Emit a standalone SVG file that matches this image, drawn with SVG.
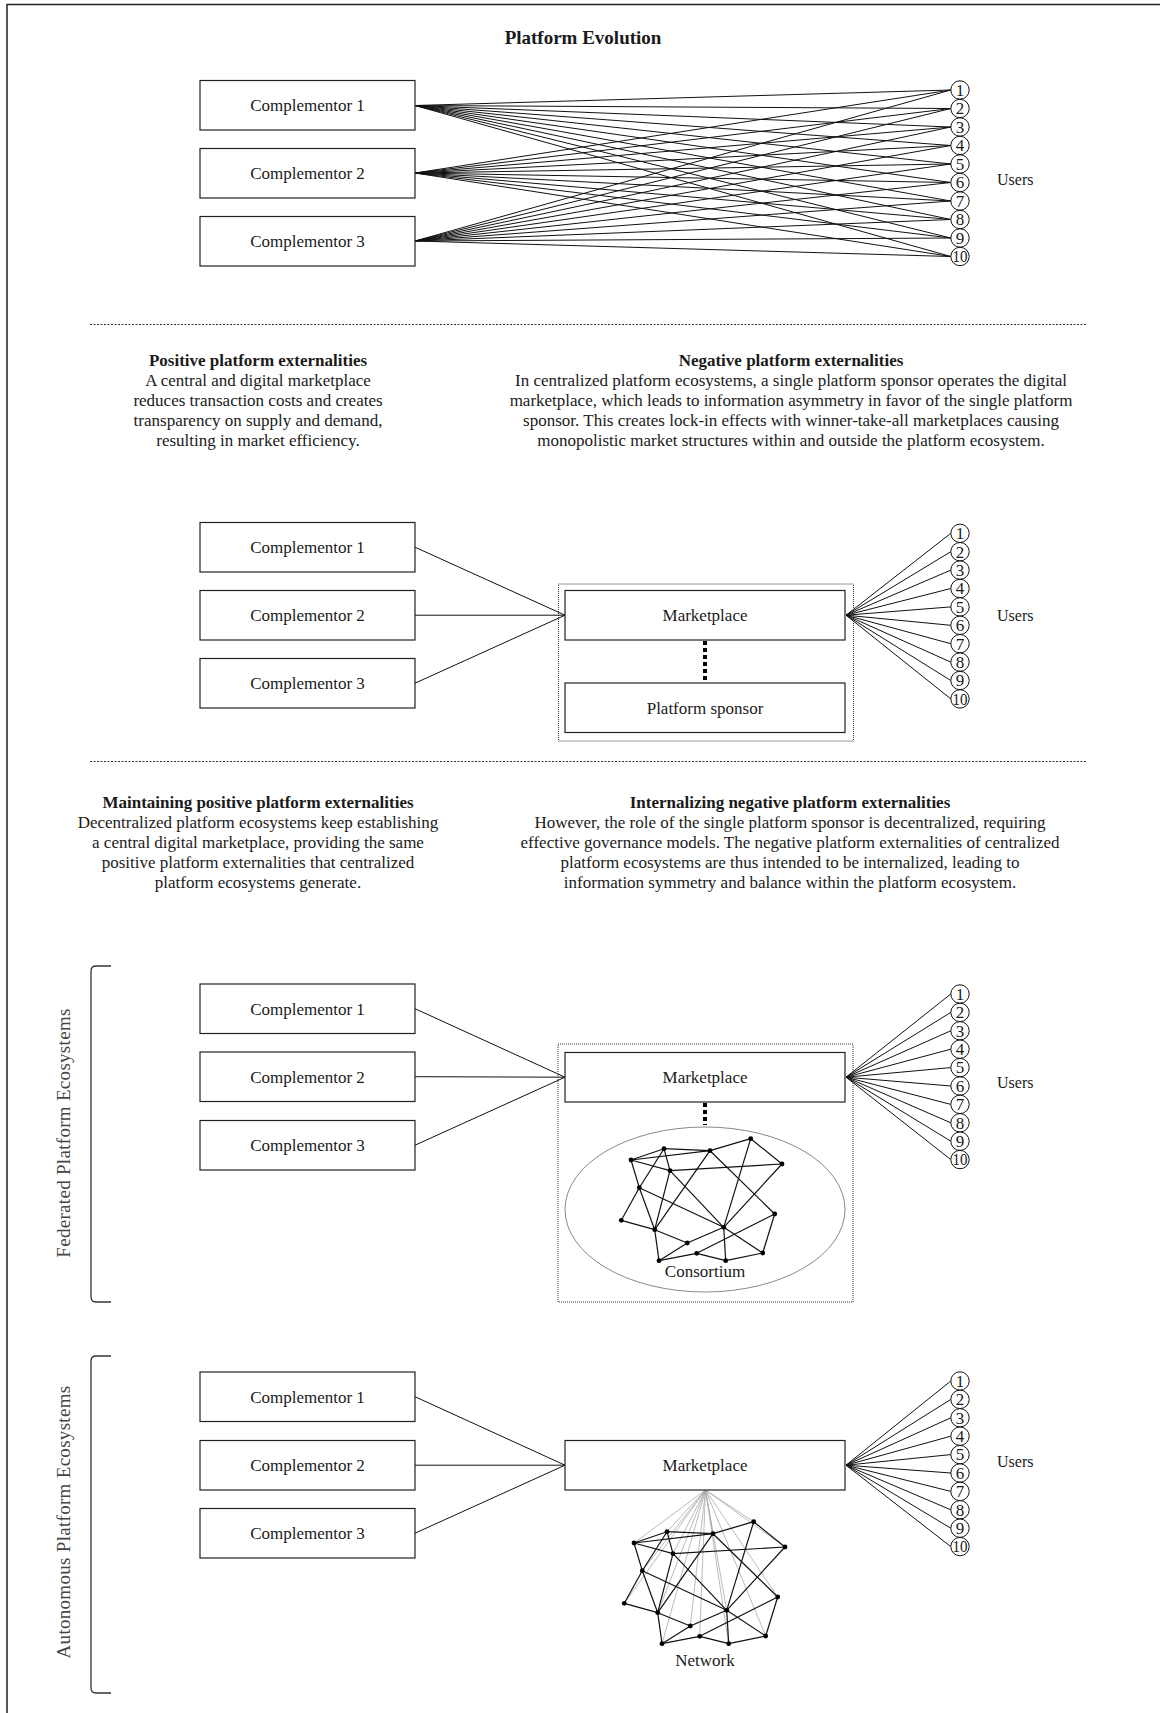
<svg xmlns="http://www.w3.org/2000/svg" xmlns:xlink="http://www.w3.org/1999/xlink" width="1160" height="1713" viewBox="0 0 1160 1713">
<style>
text{font-family:"Liberation Serif","Times New Roman",serif;fill:#1a1a1a}
.box{fill:#fff;stroke:#222;stroke-width:1.2}
.lbl{font-size:17px;text-anchor:middle}
.hd{font-size:17px;font-weight:bold;text-anchor:middle}
.body{font-size:17px;text-anchor:middle}
.title{font-size:19px;font-weight:bold;text-anchor:middle}
.users{font-size:16px}
.uc{fill:#fff;stroke:#111;stroke-width:1}
.num{font-size:17px;text-anchor:middle}
.ln{stroke:#111;stroke-width:1;fill:none}
.sep{stroke:#333;stroke-width:1;stroke-dasharray:2 1.5}
.cont{fill:none;stroke:#333;stroke-width:1;stroke-dasharray:1 1}
.thick{stroke:#000;stroke-width:4;stroke-dasharray:4 3}
.side{font-size:19px;text-anchor:middle;fill:#444;letter-spacing:0.3px}
.brk{fill:none;stroke:#333;stroke-width:1.3}
.mesh line{stroke:#111;stroke-width:1.2}
.mesh circle{fill:#000}
.gray{stroke:#aaa;stroke-width:0.8}
</style>
<defs>
<g id="mesh" class="mesh">
<line x1="631" y1="1160" x2="664" y2="1148.7"/>
<line x1="664" y1="1148.7" x2="710" y2="1150.7"/>
<line x1="710" y1="1150.7" x2="750.7" y2="1138.7"/>
<line x1="750.7" y1="1138.7" x2="782" y2="1164"/>
<line x1="631" y1="1160" x2="710" y2="1150.7"/>
<line x1="631" y1="1160" x2="670" y2="1170.7"/>
<line x1="670" y1="1170.7" x2="782" y2="1164"/>
<line x1="631" y1="1160" x2="639.3" y2="1187.7"/>
<line x1="664" y1="1148.7" x2="639.3" y2="1187.7"/>
<line x1="664" y1="1148.7" x2="670" y2="1170.7"/>
<line x1="670" y1="1170.7" x2="654.7" y2="1229.7"/>
<line x1="639.3" y1="1187.7" x2="621.3" y2="1220.3"/>
<line x1="621.3" y1="1220.3" x2="654.7" y2="1229.7"/>
<line x1="639.3" y1="1187.7" x2="654.7" y2="1229.7"/>
<line x1="639.3" y1="1187.7" x2="723.7" y2="1227.3"/>
<line x1="654.7" y1="1229.7" x2="710" y2="1150.7"/>
<line x1="670" y1="1170.7" x2="723.7" y2="1227.3"/>
<line x1="710" y1="1150.7" x2="774.7" y2="1214"/>
<line x1="750.7" y1="1138.7" x2="723.7" y2="1227.3"/>
<line x1="782" y1="1164" x2="723.7" y2="1227.3"/>
<line x1="654.7" y1="1229.7" x2="687.3" y2="1243"/>
<line x1="687.3" y1="1243" x2="723.7" y2="1227.3"/>
<line x1="654.7" y1="1229.7" x2="659" y2="1260.7"/>
<line x1="659" y1="1260.7" x2="687.3" y2="1243"/>
<line x1="659" y1="1260.7" x2="696.7" y2="1253.3"/>
<line x1="696.7" y1="1253.3" x2="774.7" y2="1214"/>
<line x1="696.7" y1="1253.3" x2="725.7" y2="1260.7"/>
<line x1="725.7" y1="1260.7" x2="762.7" y2="1253"/>
<line x1="723.7" y1="1227.3" x2="725.7" y2="1260.7"/>
<line x1="774.7" y1="1214" x2="762.7" y2="1253"/>
<line x1="723.7" y1="1227.3" x2="762.7" y2="1253"/>
<circle cx="664" cy="1148.7" r="2.4"/><circle cx="710" cy="1150.7" r="2.4"/><circle cx="750.7" cy="1138.7" r="2.4"/><circle cx="631" cy="1160" r="2.4"/>
<circle cx="670" cy="1170.7" r="2.4"/><circle cx="782" cy="1164" r="2.4"/><circle cx="639.3" cy="1187.7" r="2.4"/><circle cx="774.7" cy="1214" r="2.4"/>
<circle cx="621.3" cy="1220.3" r="2.4"/><circle cx="723.7" cy="1227.3" r="2.4"/><circle cx="654.7" cy="1229.7" r="2.4"/><circle cx="687.3" cy="1243" r="2.4"/>
<circle cx="696.7" cy="1253.3" r="2.4"/><circle cx="762.7" cy="1253" r="2.4"/><circle cx="659" cy="1260.7" r="2.4"/><circle cx="725.7" cy="1260.7" r="2.4"/>
</g>
</defs>

<rect x="7" y="4.5" width="1170" height="1730" fill="#fff" stroke="#222" stroke-width="1.5"/>

<text class="title" x="583" y="44">Platform Evolution</text>

<!-- connectors -->
<g id="connectors">
<g id="top-lines" class="ln">
<path d="M415,105.5L950.8,90M415,105.5L950.8,108.5M415,105.5L950.8,127M415,105.5L950.8,145.5M415,105.5L950.8,164M415,105.5L950.8,182.5M415,105.5L950.8,201M415,105.5L950.8,219.5M415,105.5L950.8,238M415,105.5L950.8,256.5"/>
<path d="M415,173L950.8,90M415,173L950.8,108.5M415,173L950.8,127M415,173L950.8,145.5M415,173L950.8,164M415,173L950.8,182.5M415,173L950.8,201M415,173L950.8,219.5M415,173L950.8,238M415,173L950.8,256.5"/>
<path d="M415,241L950.8,90M415,241L950.8,108.5M415,241L950.8,127M415,241L950.8,145.5M415,241L950.8,164M415,241L950.8,182.5M415,241L950.8,201M415,241L950.8,219.5M415,241L950.8,238M415,241L950.8,256.5"/>
</g>
<g id="s2-lines" class="ln">
<path d="M415,547.2L565,615.2M415,615.2L565,615.2M415,683.2L565,615.2"/>
<path d="M846,615.2L950.8,533.3M846,615.2L950.8,551.7M846,615.2L950.8,570.1M846,615.2L950.8,588.5M846,615.2L950.8,606.9M846,615.2L950.8,625.3M846,615.2L950.8,643.7M846,615.2L950.8,662.1M846,615.2L950.8,680.5M846,615.2L950.8,698.9"/>
<line class="thick" x1="705" y1="641" x2="705" y2="682"/>
</g>
<g id="s3-lines" class="ln">
<path d="M415,1008.7L565,1077.2M415,1076.7L565,1077.2M415,1145.2L565,1077.2"/>
<path d="M846,1077.2L950.8,994M846,1077.2L950.8,1012.4M846,1077.2L950.8,1030.8M846,1077.2L950.8,1049.2M846,1077.2L950.8,1067.6M846,1077.2L950.8,1086M846,1077.2L950.8,1104.4M846,1077.2L950.8,1122.8M846,1077.2L950.8,1141.2M846,1077.2L950.8,1159.6"/>
<line class="thick" x1="705" y1="1103" x2="705" y2="1125"/>
</g>
<g id="s4-lines" class="ln">
<path d="M415,1396.7L565,1465.2M415,1465.2L565,1465.2M415,1533.2L565,1465.2"/>
<path d="M846,1465.2L950.8,1381M846,1465.2L950.8,1399.4M846,1465.2L950.8,1417.8M846,1465.2L950.8,1436.2M846,1465.2L950.8,1454.6M846,1465.2L950.8,1473M846,1465.2L950.8,1491.4M846,1465.2L950.8,1509.8M846,1465.2L950.8,1528.2M846,1465.2L950.8,1546.6"/>
<g class="gray">
<line x1="705.5" y1="1490" x2="667" y2="1531.7"/><line x1="705.5" y1="1490" x2="713" y2="1533.7"/><line x1="705.5" y1="1490" x2="753.7" y2="1521.7"/><line x1="705.5" y1="1490" x2="634" y2="1543"/>
<line x1="705.5" y1="1490" x2="673" y2="1553.7"/><line x1="705.5" y1="1490" x2="785" y2="1547"/><line x1="705.5" y1="1490" x2="642.3" y2="1570.7"/><line x1="705.5" y1="1490" x2="777.7" y2="1597"/>
<line x1="705.5" y1="1490" x2="624.3" y2="1603.3"/><line x1="705.5" y1="1490" x2="726.7" y2="1610.3"/><line x1="705.5" y1="1490" x2="657.7" y2="1612.7"/><line x1="705.5" y1="1490" x2="690.3" y2="1626"/>
<line x1="705.5" y1="1490" x2="699.7" y2="1636.3"/><line x1="705.5" y1="1490" x2="765.7" y2="1636"/><line x1="705.5" y1="1490" x2="662" y2="1643.7"/><line x1="705.5" y1="1490" x2="728.7" y2="1643.7"/>
</g>
</g>
</g>

<!-- separators -->
<line class="sep" x1="90" y1="324.5" x2="1087" y2="324.5"/>
<line class="sep" x1="90" y1="761.5" x2="1087" y2="761.5"/>

<!-- section 1 nodes -->
<g id="s1-comp1"><rect class="box" x="200" y="80.5" width="215" height="49.5"/><text class="lbl" x="307.5" y="111">Complementor 1</text></g>
<g id="s1-comp2"><rect class="box" x="200" y="148.5" width="215" height="49.5"/><text class="lbl" x="307.5" y="179">Complementor 2</text></g>
<g id="s1-comp3"><rect class="box" x="200" y="216.5" width="215" height="49.5"/><text class="lbl" x="307.5" y="247">Complementor 3</text></g>
<g id="s1-users">
<g id="s1-u1"><circle class="uc" cx="960" cy="90" r="9.2"/><text class="num" x="960" y="95.8">1</text></g>
<g id="s1-u2"><circle class="uc" cx="960" cy="108.5" r="9.2"/><text class="num" x="960" y="114.3">2</text></g>
<g id="s1-u3"><circle class="uc" cx="960" cy="127" r="9.2"/><text class="num" x="960" y="132.8">3</text></g>
<g id="s1-u4"><circle class="uc" cx="960" cy="145.5" r="9.2"/><text class="num" x="960" y="151.3">4</text></g>
<g id="s1-u5"><circle class="uc" cx="960" cy="164" r="9.2"/><text class="num" x="960" y="169.8">5</text></g>
<g id="s1-u6"><circle class="uc" cx="960" cy="182.5" r="9.2"/><text class="num" x="960" y="188.3">6</text></g>
<g id="s1-u7"><circle class="uc" cx="960" cy="201" r="9.2"/><text class="num" x="960" y="206.8">7</text></g>
<g id="s1-u8"><circle class="uc" cx="960" cy="219.5" r="9.2"/><text class="num" x="960" y="225.3">8</text></g>
<g id="s1-u9"><circle class="uc" cx="960" cy="238" r="9.2"/><text class="num" x="960" y="243.8">9</text></g>
<g id="s1-u10"><circle class="uc" cx="960" cy="256.5" r="9.2"/><text class="num" x="960" y="262.3" textLength="15" lengthAdjust="spacingAndGlyphs">10</text></g>
<text class="users" x="997" y="185">Users</text>
</g>

<!-- text section 1 -->
<g id="txt1-left">
<text class="hd" x="258" y="366">Positive platform externalities</text>
<text class="body" x="258" y="386">A central and digital marketplace</text>
<text class="body" x="258" y="406">reduces transaction costs and creates</text>
<text class="body" x="258" y="426">transparency on supply and demand,</text>
<text class="body" x="258" y="446">resulting in market efficiency.</text>
</g>
<g id="txt1-right">
<text class="hd" x="791" y="366">Negative platform externalities</text>
<text class="body" x="791" y="386">In centralized platform ecosystems, a single platform sponsor operates the digital</text>
<text class="body" x="791" y="406">marketplace, which leads to information asymmetry in favor of the single platform</text>
<text class="body" x="791" y="426">sponsor. This creates lock-in effects with winner-take-all marketplaces causing</text>
<text class="body" x="791" y="446">monopolistic market structures within and outside the platform ecosystem.</text>
</g>

<!-- section 2 nodes -->
<g id="s2-container"><rect class="cont" x="558.5" y="584" width="295" height="157"/></g>
<g id="s2-comp1"><rect class="box" x="200" y="522.5" width="215" height="49.5"/><text class="lbl" x="307.5" y="553">Complementor 1</text></g>
<g id="s2-comp2"><rect class="box" x="200" y="590.5" width="215" height="49.5"/><text class="lbl" x="307.5" y="621">Complementor 2</text></g>
<g id="s2-comp3"><rect class="box" x="200" y="658.5" width="215" height="49.5"/><text class="lbl" x="307.5" y="689">Complementor 3</text></g>
<g id="s2-market"><rect class="box" x="565" y="590.5" width="280" height="49.5"/><text class="lbl" x="705" y="621">Marketplace</text></g>
<g id="s2-sponsor"><rect class="box" x="565" y="683" width="280" height="49.5"/><text class="lbl" x="705" y="713.5">Platform sponsor</text></g>
<g id="s2-users">
<g id="s2-u1"><circle class="uc" cx="960" cy="533.3" r="9.2"/><text class="num" x="960" y="539.1">1</text></g>
<g id="s2-u2"><circle class="uc" cx="960" cy="551.7" r="9.2"/><text class="num" x="960" y="557.5">2</text></g>
<g id="s2-u3"><circle class="uc" cx="960" cy="570.1" r="9.2"/><text class="num" x="960" y="575.9">3</text></g>
<g id="s2-u4"><circle class="uc" cx="960" cy="588.5" r="9.2"/><text class="num" x="960" y="594.3">4</text></g>
<g id="s2-u5"><circle class="uc" cx="960" cy="606.9" r="9.2"/><text class="num" x="960" y="612.7">5</text></g>
<g id="s2-u6"><circle class="uc" cx="960" cy="625.3" r="9.2"/><text class="num" x="960" y="631.1">6</text></g>
<g id="s2-u7"><circle class="uc" cx="960" cy="643.7" r="9.2"/><text class="num" x="960" y="649.5">7</text></g>
<g id="s2-u8"><circle class="uc" cx="960" cy="662.1" r="9.2"/><text class="num" x="960" y="667.9">8</text></g>
<g id="s2-u9"><circle class="uc" cx="960" cy="680.5" r="9.2"/><text class="num" x="960" y="686.3">9</text></g>
<g id="s2-u10"><circle class="uc" cx="960" cy="698.9" r="9.2"/><text class="num" x="960" y="704.7" textLength="15" lengthAdjust="spacingAndGlyphs">10</text></g>
<text class="users" x="997" y="621">Users</text>
</g>

<!-- text section 2 -->
<g id="txt2-left">
<text class="hd" x="258" y="808">Maintaining positive platform externalities</text>
<text class="body" x="258" y="828">Decentralized platform ecosystems keep establishing</text>
<text class="body" x="258" y="848">a central digital marketplace, providing the same</text>
<text class="body" x="258" y="868">positive platform externalities that centralized</text>
<text class="body" x="258" y="888">platform ecosystems generate.</text>
</g>
<g id="txt2-right">
<text class="hd" x="790" y="808">Internalizing negative platform externalities</text>
<text class="body" x="790" y="828">However, the role of the single platform sponsor is decentralized, requiring</text>
<text class="body" x="790" y="848">effective governance models. The negative platform externalities of centralized</text>
<text class="body" x="790" y="868">platform ecosystems are thus intended to be internalized, leading to</text>
<text class="body" x="790" y="888">information symmetry and balance within the platform ecosystem.</text>
</g>

<!-- section 3: federated -->
<g id="federated-label">
<path class="brk" d="M111,966H96Q91,966 91,971V1297Q91,1302 96,1302H111"/>
<text class="side" transform="translate(63,1133) rotate(-90)" dy="0.35em">Federated Platform Ecosystems</text>
</g>
<g id="s3-container"><rect class="cont" x="558" y="1044" width="295" height="258"/></g>
<g id="s3-comp1"><rect class="box" x="200" y="984" width="215" height="49.5"/><text class="lbl" x="307.5" y="1014.5">Complementor 1</text></g>
<g id="s3-comp2"><rect class="box" x="200" y="1052" width="215" height="49.5"/><text class="lbl" x="307.5" y="1082.5">Complementor 2</text></g>
<g id="s3-comp3"><rect class="box" x="200" y="1120.5" width="215" height="49.5"/><text class="lbl" x="307.5" y="1151">Complementor 3</text></g>
<g id="s3-market"><rect class="box" x="565" y="1052.5" width="280" height="49.5"/><text class="lbl" x="705" y="1083">Marketplace</text></g>
<g id="s3-consortium">
<ellipse cx="705" cy="1209.5" rx="140" ry="82.5" fill="none" stroke="#888" stroke-width="1"/>
<use xlink:href="#mesh"/>
<text class="lbl" x="705" y="1277">Consortium</text>
</g>
<g id="s3-users">
<g id="s3-u1"><circle class="uc" cx="960" cy="994" r="9.2"/><text class="num" x="960" y="999.8">1</text></g>
<g id="s3-u2"><circle class="uc" cx="960" cy="1012.4" r="9.2"/><text class="num" x="960" y="1018.2">2</text></g>
<g id="s3-u3"><circle class="uc" cx="960" cy="1030.8" r="9.2"/><text class="num" x="960" y="1036.6">3</text></g>
<g id="s3-u4"><circle class="uc" cx="960" cy="1049.2" r="9.2"/><text class="num" x="960" y="1055">4</text></g>
<g id="s3-u5"><circle class="uc" cx="960" cy="1067.6" r="9.2"/><text class="num" x="960" y="1073.4">5</text></g>
<g id="s3-u6"><circle class="uc" cx="960" cy="1086" r="9.2"/><text class="num" x="960" y="1091.8">6</text></g>
<g id="s3-u7"><circle class="uc" cx="960" cy="1104.4" r="9.2"/><text class="num" x="960" y="1110.2">7</text></g>
<g id="s3-u8"><circle class="uc" cx="960" cy="1122.8" r="9.2"/><text class="num" x="960" y="1128.6">8</text></g>
<g id="s3-u9"><circle class="uc" cx="960" cy="1141.2" r="9.2"/><text class="num" x="960" y="1147">9</text></g>
<g id="s3-u10"><circle class="uc" cx="960" cy="1159.6" r="9.2"/><text class="num" x="960" y="1165.4" textLength="15" lengthAdjust="spacingAndGlyphs">10</text></g>
<text class="users" x="997" y="1088">Users</text>
</g>

<!-- section 4: autonomous -->
<g id="autonomous-label">
<path class="brk" d="M111,1356H96Q91,1356 91,1361V1688Q91,1693 96,1693H111"/>
<text class="side" transform="translate(63,1522) rotate(-90)" dy="0.35em">Autonomous Platform Ecosystems</text>
</g>
<g id="s4-comp1"><rect class="box" x="200" y="1372" width="215" height="49.5"/><text class="lbl" x="307.5" y="1402.5">Complementor 1</text></g>
<g id="s4-comp2"><rect class="box" x="200" y="1440.5" width="215" height="49.5"/><text class="lbl" x="307.5" y="1471">Complementor 2</text></g>
<g id="s4-comp3"><rect class="box" x="200" y="1508.5" width="215" height="49.5"/><text class="lbl" x="307.5" y="1539">Complementor 3</text></g>
<g id="s4-market"><rect class="box" x="565" y="1440.5" width="280" height="49.5"/><text class="lbl" x="705" y="1471">Marketplace</text></g>
<g id="s4-network">
<use xlink:href="#mesh" transform="translate(3,383)"/>
<text class="lbl" x="705" y="1666">Network</text>
</g>
<g id="s4-users">
<g id="s4-u1"><circle class="uc" cx="960" cy="1381" r="9.2"/><text class="num" x="960" y="1386.8">1</text></g>
<g id="s4-u2"><circle class="uc" cx="960" cy="1399.4" r="9.2"/><text class="num" x="960" y="1405.2">2</text></g>
<g id="s4-u3"><circle class="uc" cx="960" cy="1417.8" r="9.2"/><text class="num" x="960" y="1423.6">3</text></g>
<g id="s4-u4"><circle class="uc" cx="960" cy="1436.2" r="9.2"/><text class="num" x="960" y="1442">4</text></g>
<g id="s4-u5"><circle class="uc" cx="960" cy="1454.6" r="9.2"/><text class="num" x="960" y="1460.4">5</text></g>
<g id="s4-u6"><circle class="uc" cx="960" cy="1473" r="9.2"/><text class="num" x="960" y="1478.8">6</text></g>
<g id="s4-u7"><circle class="uc" cx="960" cy="1491.4" r="9.2"/><text class="num" x="960" y="1497.2">7</text></g>
<g id="s4-u8"><circle class="uc" cx="960" cy="1509.8" r="9.2"/><text class="num" x="960" y="1515.6">8</text></g>
<g id="s4-u9"><circle class="uc" cx="960" cy="1528.2" r="9.2"/><text class="num" x="960" y="1534">9</text></g>
<g id="s4-u10"><circle class="uc" cx="960" cy="1546.6" r="9.2"/><text class="num" x="960" y="1552.4" textLength="15" lengthAdjust="spacingAndGlyphs">10</text></g>
<text class="users" x="997" y="1467">Users</text>
</g>
</svg>
